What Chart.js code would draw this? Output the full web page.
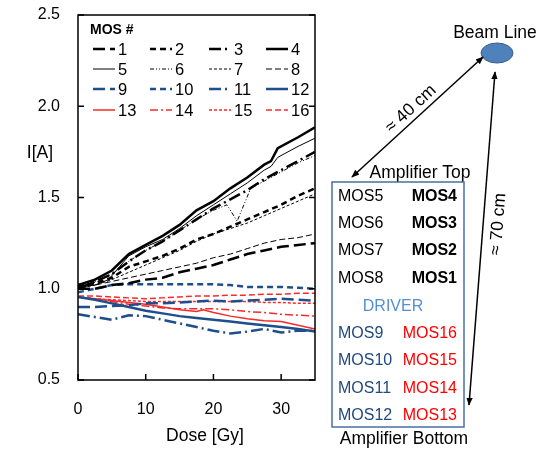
<!DOCTYPE html>
<html>
<head>
<meta charset="utf-8">
<script src="https://cdn.jsdelivr.net/npm/chart.js@4.4.1/dist/chart.umd.min.js"></script>
<style>
  html, body { margin: 0; padding: 0; background: #fff; }
  #wrap { position: relative; width: 538px; height: 449px; overflow: hidden; }
  #graficoMos { position: absolute; left: 0; top: 0; }
  #schema { position: absolute; left: 0; top: 0; }
</style>
</head>
<body>
<div id="wrap">
  <canvas id="graficoMos" width="538" height="449"></canvas>
  <svg id="schema" width="538" height="449" font-family="Liberation Sans, Arial, sans-serif" font-size="16">
    <defs>
      <marker id="punta" viewBox="0 0 10 10" refX="9" refY="5" markerWidth="8" markerHeight="8"
              markerUnits="userSpaceOnUse" orient="auto-start-reverse">
        <path d="M0,1 L10,5 L0,9 z" fill="#000"/>
      </marker>
    </defs>
    <!-- axis titles -->
    <text x="40" y="152" text-anchor="middle" dominant-baseline="central" font-size="17.5">I[A]</text>
    <text x="205" y="435" text-anchor="middle" dominant-baseline="central" font-size="17.5">Dose [Gy]</text>

    <!-- beam line -->
    <text x="495" y="32" text-anchor="middle" dominant-baseline="central" font-size="17.5">Beam Line</text>
    <ellipse cx="497" cy="53" rx="16" ry="10" fill="#4F81BD" stroke="#385D8A" stroke-width="1"/>

    <!-- distances -->
    <line x1="352" y1="177" x2="483" y2="57" stroke="#000" stroke-width="1.5" marker-start="url(#punta)" marker-end="url(#punta)"/>
    <text transform="translate(410,108) rotate(-42.5)" text-anchor="middle" dominant-baseline="central" font-size="17.5">≈ 40 cm</text>
    <line x1="495" y1="72" x2="469" y2="405" stroke="#000" stroke-width="1.5" marker-start="url(#punta)" marker-end="url(#punta)"/>
    <text transform="translate(497,224) rotate(-85.5)" text-anchor="middle" dominant-baseline="central" font-size="17.5">≈ 70 cm</text>

    <!-- amplifier -->
    <text x="420" y="172" text-anchor="middle" dominant-baseline="central" font-size="17.5">Amplifier Top</text>
    <rect x="332" y="182" width="132" height="245" fill="none" stroke="#4A6FA5" stroke-width="1.5"/>
    <g dominant-baseline="central">
      <text x="338" y="195">MOS5</text>
      <text x="457" y="195" text-anchor="end" font-weight="bold">MOS4</text>
      <text x="338" y="222">MOS6</text>
      <text x="457" y="222" text-anchor="end" font-weight="bold">MOS3</text>
      <text x="338" y="249">MOS7</text>
      <text x="457" y="249" text-anchor="end" font-weight="bold">MOS2</text>
      <text x="338" y="277">MOS8</text>
      <text x="457" y="277" text-anchor="end" font-weight="bold">MOS1</text>
      <text x="393" y="305" text-anchor="middle" fill="#558ED5">DRIVER</text>
      <text x="338" y="332" fill="#1F497D">MOS9</text>
      <text x="457" y="332" text-anchor="end" fill="#FF0000">MOS16</text>
      <text x="338" y="359" fill="#1F497D">MOS10</text>
      <text x="457" y="359" text-anchor="end" fill="#FF0000">MOS15</text>
      <text x="338" y="387" fill="#1F497D">MOS11</text>
      <text x="457" y="387" text-anchor="end" fill="#FF0000">MOS14</text>
      <text x="338" y="414" fill="#1F497D">MOS12</text>
      <text x="457" y="414" text-anchor="end" fill="#FF0000">MOS13</text>
    </g>
    <text x="404" y="438" text-anchor="middle" dominant-baseline="central" font-size="17.5">Amplifier Bottom</text>
  </svg>
</div>
<script>
// dati: corrente I[A] in funzione della dose [Gy]
const dose = [0, 2.5, 5, 7.5, 10, 12.5, 15, 17.5, 20, 22.5, 25, 27.5, 30, 32.5, 35];
const dose4 = [0, 2.5, 5, 7.5, 10, 12.5, 15, 17.5, 20, 22.5, 25, 27.5, 28.5, 29.5, 32.5, 35];
const dose5 = [0, 2.5, 4.5, 7.5, 10, 12.5, 15, 17.5, 20, 22.5, 25, 27.5, 28.5, 29.5, 32.5, 35];
const dose6 = [0, 2.5, 5, 7.5, 10, 12.5, 15, 17.5, 20, 22, 23.5, 25.5, 27.5, 30, 32.5, 35];
const dose13 = [0, 2.5, 5, 7.5, 10, 12.5, 15, 17.5, 18.5, 20, 22.5, 25, 27.5, 30, 32.5, 35];

const mos1 = [1.00, 1.00, 1.02, 1.03, 1.05, 1.06, 1.09, 1.11, 1.13, 1.16, 1.19, 1.21, 1.23, 1.24, 1.25];
const mos2 = [1.02, 1.03, 1.06, 1.12, 1.15, 1.18, 1.22, 1.27, 1.30, 1.34, 1.38, 1.42, 1.46, 1.51, 1.55];
const mos3 = [1.00, 1.04, 1.08, 1.15, 1.21, 1.26, 1.32, 1.38, 1.44, 1.49, 1.54, 1.60, 1.65, 1.70, 1.75];
const mos4 = [1.02, 1.05, 1.10, 1.19, 1.24, 1.29, 1.35, 1.43, 1.48, 1.55, 1.61, 1.68, 1.70, 1.77, 1.83, 1.885];
const mos5 = [1.01, 1.02, 1.05, 1.18, 1.23, 1.27, 1.33, 1.40, 1.46, 1.52, 1.58, 1.65, 1.67, 1.72, 1.78, 1.825];
const mos6 = [1.01, 1.04, 1.08, 1.15, 1.21, 1.26, 1.32, 1.38, 1.43, 1.46, 1.37, 1.55, 1.59, 1.64, 1.69, 1.73];
const mos7 = [1.00, 1.02, 1.05, 1.09, 1.13, 1.17, 1.21, 1.26, 1.30, 1.33, 1.36, 1.40, 1.44, 1.48, 1.52];
const mos8 = [1.01, 1.02, 1.04, 1.06, 1.08, 1.10, 1.12, 1.14, 1.17, 1.19, 1.22, 1.25, 1.27, 1.28, 1.30];
const mos9 = [0.90, 0.90, 0.905, 0.91, 0.92, 0.92, 0.925, 0.93, 0.935, 0.93, 0.935, 0.94, 0.945, 0.94, 0.935];
const mos10 = [0.98, 1.00, 1.02, 1.025, 1.025, 1.025, 1.025, 1.025, 1.025, 1.02, 1.01, 1.01, 1.01, 1.005, 1.00];
const mos11 = [0.86, 0.845, 0.83, 0.855, 0.85, 0.83, 0.81, 0.79, 0.77, 0.755, 0.765, 0.78, 0.76, 0.77, 0.77];
const mos12 = [0.955, 0.94, 0.92, 0.90, 0.88, 0.865, 0.85, 0.84, 0.83, 0.82, 0.81, 0.80, 0.79, 0.78, 0.765];
const mos13 = [0.955, 0.945, 0.935, 0.925, 0.915, 0.90, 0.885, 0.875, 0.885, 0.87, 0.85, 0.835, 0.825, 0.82, 0.80, 0.78];
const mos14 = [0.955, 0.94, 0.93, 0.915, 0.905, 0.895, 0.89, 0.89, 0.89, 0.885, 0.875, 0.87, 0.86, 0.855, 0.85];
const mos15 = [0.955, 0.945, 0.94, 0.935, 0.93, 0.93, 0.93, 0.93, 0.93, 0.93, 0.93, 0.925, 0.925, 0.92, 0.92];
const mos16 = [0.96, 0.96, 0.955, 0.95, 0.945, 0.95, 0.955, 0.96, 0.96, 0.965, 0.965, 0.97, 0.97, 0.975, 0.975];

const yTicks = [0.5, 1.0, 1.5, 2.0, 2.5];
const xTicks = [0, 10, 20, 30];

const NERO = '#000000';
const BLU = '#1F4E8C';
const ROSSO = '#F52A2A';
const FONT = '"Liberation Sans", Arial, sans-serif';

// stile di ogni serie: [etichetta, x, y, colore, spessore, tratteggio]
const serie = [
    ['1', dose, mos1, NERO, 2.5, [12, 5]],
    ['2', dose, mos2, NERO, 2.5, [6, 4]],
    ['3', dose, mos3, NERO, 2.5, [12, 4, 2, 4]],
    ['4', dose4, mos4, NERO, 2.5, []],
    ['5', dose5, mos5, NERO, 1, []],
    ['6', dose6, mos6, NERO, 1, [4, 2, 1, 2, 1, 2]],
    ['7', dose, mos7, NERO, 1, [3, 2]],
    ['8', dose, mos8, NERO, 1, [6, 3]],
    ['9', dose, mos9, BLU, 2.5, [12, 5]],
    ['10', dose, mos10, BLU, 2.5, [6, 4]],
    ['11', dose, mos11, BLU, 2.5, [12, 4, 2, 4]],
    ['12', dose, mos12, BLU, 2.5, []],
    ['13', dose13, mos13, ROSSO, 1.5, []],
    ['14', dose, mos14, ROSSO, 1.5, [8, 3, 2, 3]],
    ['15', dose, mos15, ROSSO, 1.5, [3, 2]],
    ['16', dose, mos16, ROSSO, 1.5, [6, 3]]
];

const datasets = serie.map(([label, xs, ys, colore, spessore, dash]) => ({
    label: label,
    data: xs.map((x, i) => ({ x: x, y: ys[i] })),
    borderColor: colore,
    borderWidth: spessore,
    borderDash: dash,
    pointRadius: 0,
    tension: 0,
    fill: false
}));

// cornice con tacche interne
const cornice = {
    id: 'cornice',
    afterDraw(chart) {
        const { ctx, chartArea: a, scales } = chart;
        ctx.save();
        ctx.strokeStyle = '#000';
        ctx.lineWidth = 1.5;
        ctx.setLineDash([]);
        ctx.strokeRect(a.left, a.top, a.right - a.left, a.bottom - a.top);
        ctx.beginPath();
        yTicks.forEach(v => {
            const py = scales.y.getPixelForValue(v);
            ctx.moveTo(a.left, py); ctx.lineTo(a.left + 6, py);
            ctx.moveTo(a.right, py); ctx.lineTo(a.right - 6, py);
        });
        xTicks.forEach(v => {
            const px = scales.x.getPixelForValue(v);
            ctx.moveTo(px, a.bottom); ctx.lineTo(px, a.bottom - 6);
        });
        ctx.stroke();
        ctx.restore();
    }
};

// legenda a 4 colonne dentro il grafico
const colonne = [93, 150, 209, 266];
const righe = [49, 69, 89, 110];
const legendaMos = {
    id: 'legendaMos',
    afterDraw(chart) {
        const ctx = chart.ctx;
        ctx.save();
        ctx.fillStyle = '#000';
        ctx.textBaseline = 'middle';
        ctx.font = 'bold 14px ' + FONT;
        ctx.fillText('MOS #', 90, 30);
        ctx.font = '16.5px ' + FONT;
        chart.data.datasets.forEach((ds, i) => {
            const x = colonne[i % 4];
            const y = righe[Math.floor(i / 4)];
            ctx.strokeStyle = ds.borderColor;
            ctx.lineWidth = ds.borderWidth;
            ctx.setLineDash(ds.borderDash);
            ctx.beginPath();
            ctx.moveTo(x, y);
            ctx.lineTo(x + 22, y);
            ctx.stroke();
            ctx.setLineDash([]);
            ctx.fillText(ds.label, x + 25, y + 1);
        });
        ctx.restore();
    }
};

new Chart(document.getElementById('graficoMos'), {
    type: 'line',
    data: { datasets: datasets },
    options: {
        responsive: false,
        animation: false,
        layout: { padding: { left: 0, right: 223, top: 15, bottom: 0 } },
        plugins: {
            legend: { display: false },
            tooltip: { enabled: false }
        },
        scales: {
            x: {
                type: 'linear',
                min: 0,
                max: 35,
                grid: { display: false, drawTicks: true, tickLength: 20 },
                border: { display: false },
                afterBuildTicks: s => { s.ticks = xTicks.map(v => ({ value: v })); },
                afterFit: s => { s.height = 69; },
                ticks: { color: '#000', padding: 0, font: { size: 16, family: FONT } }
            },
            y: {
                min: 0.5,
                max: 2.5,
                grid: { display: false, drawTicks: true, tickLength: 18 },
                border: { display: false },
                afterBuildTicks: s => { s.ticks = yTicks.map(v => ({ value: v })); },
                afterFit: s => { s.width = 78; },
                ticks: {
                    color: '#000',
                    padding: 0,
                    font: { size: 16, family: FONT },
                    callback: v => v.toFixed(1)
                }
            }
        }
    },
    plugins: [cornice, legendaMos]
});
</script>
</body>
</html>
